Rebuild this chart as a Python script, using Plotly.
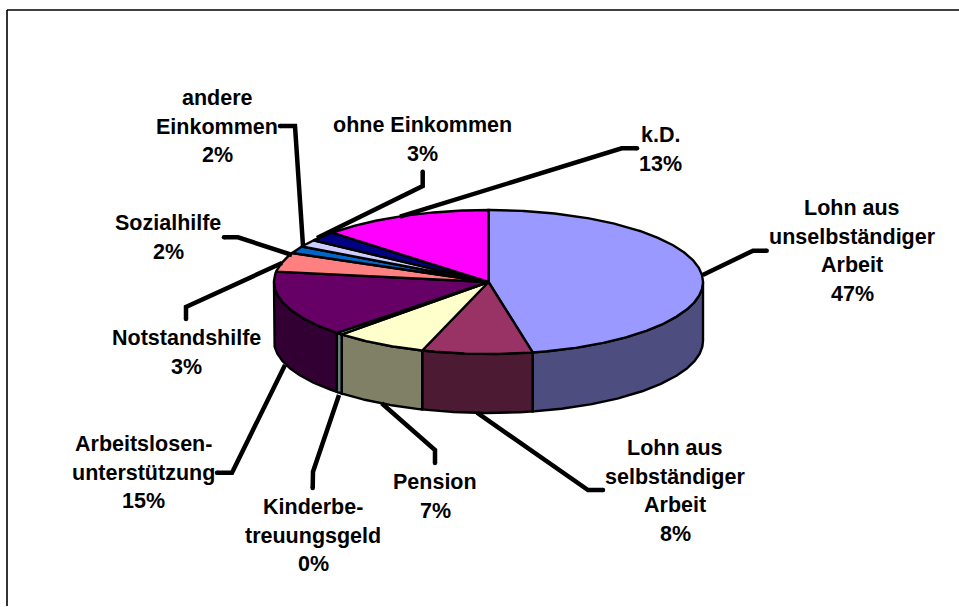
import numpy as np
import plotly.graph_objects as go

categories = ["Lohn aus unselbständiger Arbeit", "Lohn aus selbständiger Arbeit", "Pension",
              "Kinderbetreuungsgeld", "Arbeitslosenunterstützung", "Notstandshilfe",
              "Sozialhilfe", "andere Einkommen", "ohne Einkommen", "k.D."]
shares = [46.7, 8.3, 7.0, 0.5, 14.8, 4.3, 1.6, 1.6, 2.2, 13.0]
percent_labels = ["47%", "8%", "7%", "0%", "15%", "3%", "2%", "2%", "3%", "13%"]
label_lines = [["Lohn aus", "unselbständiger", "Arbeit"], ["Lohn aus", "selbständiger", "Arbeit"],
               ["Pension"], ["Kinderbe-", "treuungsgeld"], ["Arbeitslosen-", "unterstützung"],
               ["Notstandshilfe"], ["Sozialhilfe"], ["andere", "Einkommen"], ["ohne Einkommen"], ["k.D."]]
top_colors = ["#9999FF", "#993366", "#FFFFCC", "#CCFFFF", "#660066",
              "#FF8080", "#0066CC", "#CCCCFF", "#000080", "#FF00FF"]
side_colors = ["#4D4D80", "#4D1A33", "#808066", "#668080", "#330033",
               "#804040", "#003366", "#666680", "#000040", "#800080"]

# Layout of the picture
CX, CY, RX, RY, DEPTH = 488.5, 282, 214.5, 72, 59
label_x = [852, 675, 435, 313, 143, 186, 168, 217, 422, 660]
label_y = [208, 448, 482, 507, 444, 338, 223, 98, 125, 135]
LINE_STEP = 28.7
leaders = [
    [(702.7, 275), (753, 250.7), (766.7, 250.7)],
    [(477, 412.7), (588, 490), (603, 490)],
    [(381.7, 403.3), (435, 450), (435, 463)],
    [(339, 395), (313, 471.7), (312.7, 488)],
    [(285, 365), (232, 472.7), (217, 472.7)],
    [(282, 263), (186, 307), (186, 319)],
    [(292, 255), (238, 237.3), (224, 237.3)],
    [(303, 246), (295, 126), (280, 126)],
    [(317, 238), (422.7, 186), (422.7, 171.7)],
    [(400, 216.7), (621.7, 148.3), (637, 148.3)],
]


def rim(a0, a1, dy=0.0):
    """Ellipse points between two clockwise angles (degrees from the top)."""
    n = max(2, int(abs(a1 - a0) * 2) + 2)
    t = np.radians(np.linspace(a0, a1, n))
    return CX + RX * np.sin(t), CY - RY * np.cos(t) + dy


fig = go.Figure()
edges = np.concatenate([[0], np.cumsum(shares)]) / np.sum(shares) * 360
outline = dict(color="black", width=2.4)

# front wall of the disc: only the part between 90 and 270 degrees shows
for i in range(len(shares)):
    a0, a1 = max(edges[i], 90), min(edges[i + 1], 270)
    if a1 <= a0:
        continue
    xt, yt = rim(a0, a1)
    xb, yb = rim(a1, a0, DEPTH)
    fig.add_trace(go.Scatter(x=np.r_[xt, xb, xt[0]], y=np.r_[yt, yb, yt[0]], mode="lines",
                             fill="toself", fillcolor=side_colors[i], line=outline,
                             hoverinfo="skip", showlegend=False))

# top face
for i in range(len(shares)):
    xt, yt = rim(edges[i], edges[i + 1])
    fig.add_trace(go.Scatter(x=np.r_[CX, xt, CX], y=np.r_[CY, yt, CY], mode="lines",
                             fill="toself", fillcolor=top_colors[i], line=outline,
                             name=categories[i], hoverinfo="skip", showlegend=False))

# leader lines with rounded ends
for pts in leaders:
    xs, ys = zip(*pts)
    fig.add_trace(go.Scatter(x=xs, y=ys, mode="lines", line=dict(color="black", width=4.5),
                             hoverinfo="skip", showlegend=False))
    fig.add_trace(go.Scatter(x=[xs[-1]], y=[ys[-1]], mode="markers",
                             marker=dict(color="black", size=4.5), hoverinfo="skip", showlegend=False))

# labels, one annotation per line to hold the wide line spacing
for lines, pct, lx, ly in zip(label_lines, percent_labels, label_x, label_y):
    for k, txt in enumerate(lines + [pct]):
        fig.add_annotation(x=lx, y=ly + k * LINE_STEP, text=f"<b>{txt}</b>", showarrow=False,
                           xanchor="center", yanchor="middle",
                           font=dict(family="Liberation Sans, Arial, sans-serif", size=21.5, color="black"))

frame = dict(type="line", xref="x", yref="y", line=dict(color="black", width=1.6))
fig.update_layout(
    width=959, height=607, autosize=False,
    margin=dict(l=0, r=0, t=0, b=0),
    paper_bgcolor="white", plot_bgcolor="white",
    xaxis=dict(range=[0, 959], visible=False, fixedrange=True),
    yaxis=dict(range=[607, 0], visible=False, fixedrange=True),
    shapes=[dict(frame, x0=7, x1=7, y0=10, y1=606), dict(frame, x0=7, x1=959, y0=10, y1=10)],
)
fig.write_html("out.html", config=dict(displayModeBar=False),
               post_script="document.body.style.margin='0';document.body.style.overflow='hidden';")
